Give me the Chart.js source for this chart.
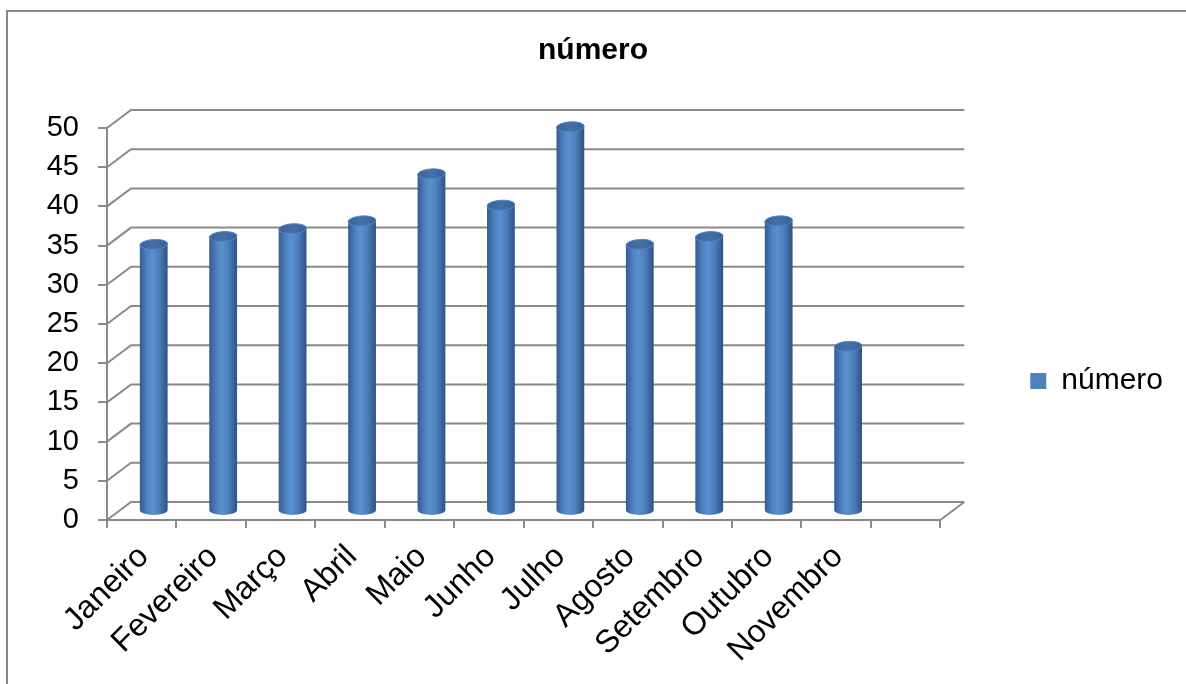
<!DOCTYPE html>
<html lang="pt">
<head>
<meta charset="utf-8">
<title>número</title>
<script src="https://cdn.jsdelivr.net/npm/chart.js@4.4.1/dist/chart.umd.min.js"></script>
<style>
    html, body { margin: 0; padding: 0; background: #fff; }
    #wrap { width: 1186px; height: 684px; position: relative; }
</style>
</head>
<body>
<div id="wrap"><canvas id="grafico"></canvas></div>
<script>
// ===== Dados =====
const meses = ['Janeiro', 'Fevereiro', 'Março', 'Abril', 'Maio', 'Junho', 'Julho', 'Agosto', 'Setembro', 'Outubro', 'Novembro', ''];
const valores = [34, 35, 36, 37, 43, 39, 49, 34, 35, 37, 21, null];
const ticksY = [0, 5, 10, 15, 20, 25, 30, 35, 40, 45, 50];
const serie = 'número';

// ===== Estilo =====
const fonte = '"Liberation Sans", Arial, sans-serif';
const corGrade = '#8a8a8a';
const azul = '#4f81bd';
const DX = 24;   // profundidade da parede (efeito 3D)
const DY = -18;

function gradienteCilindro(ctx, x0, x1) {
    const g = ctx.createLinearGradient(x0, 0, x1, 0);
    g.addColorStop(0, '#365b8c');
    g.addColorStop(0.25, '#4c80bf');
    g.addColorStop(0.45, '#5b90d1');
    g.addColorStop(0.7, '#4b7dba');
    g.addColorStop(1, '#2f5183');
    return g;
}

// moldura do gráfico (só topo e esquerda aparecem)
const moldura = {
    id: 'moldura',
    beforeDraw(chart) {
        const { ctx, width, height } = chart;
        ctx.save();
        ctx.strokeStyle = '#878787';
        ctx.lineWidth = 2;
        ctx.beginPath();
        ctx.moveTo(7, height);
        ctx.lineTo(7, 11);
        ctx.lineTo(width, 11);
        ctx.stroke();
        ctx.restore();
    }
};

// paredes 3D + deslocamento das barras para o meio da profundidade
const paredes = {
    id: 'paredes',
    afterInit(chart) {
        // legenda mais larga: deixa espaço entre o gráfico e a legenda
        const lg = chart.legend;
        const fitOriginal = lg.fit;
        lg.fit = function () {
            fitOriginal.call(this);
            this.width += 93;
        };
    },
    afterLayout(chart) {
        const lg = chart.legend;
        if (!lg) return;
        lg.left += 80; lg.right += 80;
        lg.top += 39; lg.bottom += 39;
    },
    beforeDatasetsDraw(chart) {
        const { ctx, chartArea: a, scales: { y } } = chart;
        ctx.save();
        ctx.strokeStyle = corGrade;
        ctx.lineWidth = 2;
        ticksY.forEach(v => {
            const py = y.getPixelForValue(v);
            ctx.beginPath();
            ctx.moveTo(a.left, py);
            ctx.lineTo(a.left + DX, py + DY);
            ctx.lineTo(a.right + DX, py + DY);
            ctx.stroke();
        });
        const p0 = y.getPixelForValue(0);
        ctx.beginPath();
        ctx.moveTo(a.right, p0);
        ctx.lineTo(a.right + DX, p0 + DY);
        ctx.stroke();
        ctx.restore();

        ctx.save();
        ctx.translate(DX / 2, DY / 2);
    },
    afterDatasetsDraw(chart) {
        const { ctx } = chart;
        ctx.restore();

        // tampas e fundos dos cilindros
        const meta = chart.getDatasetMeta(0);
        ctx.save();
        meta.data.forEach((bar, i) => {
            if (valores[i] == null) return;
            const cx = bar.x + DX / 2;
            const rx = bar.width / 2;
            const ry = 5;
            const topo = bar.y + DY / 2;
            const base = bar.base + DY / 2;

            ctx.fillStyle = gradienteCilindro(ctx, cx - rx, cx + rx);
            ctx.beginPath();
            ctx.ellipse(cx, base, rx, ry, 0, 0, Math.PI);
            ctx.fill();

            const g = ctx.createLinearGradient(cx - rx, 0, cx + rx, 0);
            g.addColorStop(0, '#3a6499');
            g.addColorStop(0.5, '#4471a9');
            g.addColorStop(1, '#36609a');
            ctx.fillStyle = g;
            ctx.strokeStyle = '#5585c0';
            ctx.lineWidth = 1;
            ctx.beginPath();
            ctx.ellipse(cx, topo, rx, ry, -0.06, 0, Math.PI * 2);
            ctx.fill();
            ctx.stroke();
        });
        ctx.restore();
    }
};

const ctxGrafico = document.getElementById('grafico').getContext('2d');

new Chart(ctxGrafico, {
    type: 'bar',
    data: {
        labels: meses,
        datasets: [{
            label: serie,
            data: valores,
            categoryPercentage: 1,
            barPercentage: 0.4,
            borderWidth: 0,
            backgroundColor: c => {
                const xs = c.chart.scales.x;
                if (!xs || !xs.width) return azul;
                const cx = xs.getPixelForValue(c.dataIndex);
                const w = xs.width / meses.length * 0.4;
                return gradienteCilindro(c.chart.ctx, cx - w / 2, cx + w / 2);
            }
        }]
    },
    options: {
        responsive: true,
        maintainAspectRatio: false,
        animation: false,
        layout: {
            padding: { left: 0, right: 0, top: 0, bottom: 0 }
        },
        plugins: {
            title: {
                display: true,
                text: serie,
                color: '#000',
                font: { family: fonte, size: 30, weight: 'bold' },
                padding: { top: 33, bottom: 59 }
            },
            legend: {
                position: 'right',
                labels: {
                    color: '#000',
                    font: { family: fonte, size: 30 },
                    boxWidth: 16,
                    boxHeight: 16,
                    padding: 10,
                    generateLabels: () => [{
                        text: serie,
                        fillStyle: azul,
                        strokeStyle: azul,
                        lineWidth: 0,
                        hidden: false,
                        datasetIndex: 0
                    }]
                }
            },
            tooltip: { enabled: false }
        },
        scales: {
            x: {
                afterFit: s => { s.height = 164; },
                ticks: {
                    color: '#000',
                    font: { family: fonte, size: 32 },
                    maxRotation: 45,
                    minRotation: 45,
                    autoSkip: false,
                    padding: 10,
                    labelOffset: 2
                },
                grid: {
                    drawOnChartArea: false,
                    color: corGrade,
                    lineWidth: 2,
                    tickLength: 8
                },
                border: { color: corGrade, width: 2 }
            },
            y: {
                min: 0,
                max: 50,
                afterFit: s => { s.width = 107; },
                afterBuildTicks: s => { s.ticks = ticksY.map(v => ({ value: v })); },
                ticks: {
                    color: '#000',
                    font: { family: fonte, size: 29 },
                    padding: 19
                },
                grid: {
                    drawOnChartArea: false,
                    color: corGrade,
                    lineWidth: 2,
                    tickLength: 9
                },
                border: { color: corGrade, width: 2 }
            }
        }
    },
    plugins: [moldura, paredes]
});
</script>
</body>
</html>
